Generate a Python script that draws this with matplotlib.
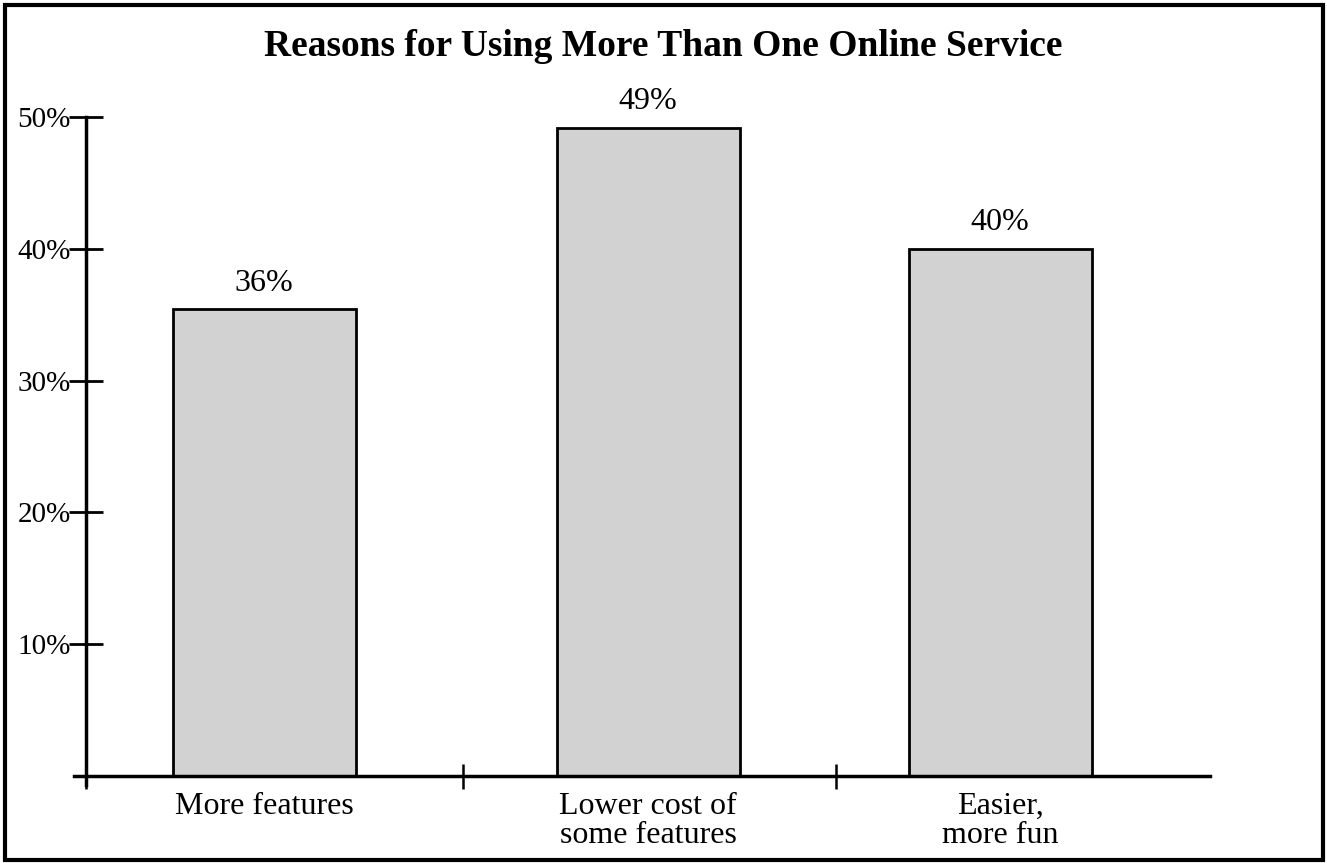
import matplotlib
matplotlib.use('Agg')
import matplotlib.pyplot as plt
from matplotlib.patches import Rectangle

# data
categories = ['More features', 'Lower cost of\nsome features', 'Easier,\nmore fun']
values = [35.4, 49.2, 40.0]
value_labels = ['36%', '49%', '40%']
yticks = [10, 20, 30, 40, 50]
ytick_labels = ['10%', '20%', '30%', '40%', '50%']

plt.rcParams['font.family'] = ['Liberation Serif', 'DejaVu Serif']

W, H = 1327, 863
fig = plt.figure(figsize=(W / 100, H / 100), dpi=100)

# axes placed in pixel terms, x data in pixels too
x0, x1 = 74, 1210
y_bot, y_top = 776, 117
ax = fig.add_axes([x0 / W, (H - y_bot) / H, (x1 - x0) / W, (y_bot - y_top) / H])
ax.set_xlim(x0, x1)
ax.set_ylim(0, 50)

centers = [264, 648, 1000]
bar_w = 183
ax.bar(centers, values, width=bar_w, color='#d2d2d2', edgecolor='black',
       linewidth=2, zorder=2)

for c, v, lab in zip(centers, values, value_labels):
    ax.text(c, v + 0.9, lab, ha='center', va='bottom', fontsize=23)

for c, cat in zip(centers, categories):
    ax.text(c, -1.2, cat, ha='center', va='top', fontsize=23, linespacing=1.0)

for s in ['top', 'right']:
    ax.spines[s].set_visible(False)
ax.spines['left'].set_position(('data', 86))
ax.spines['left'].set_linewidth(2.5)
ax.spines['bottom'].set_linewidth(2.5)
ax.spines['left'].set_bounds(-0.7, 50)

ax.set_yticks(yticks)
ax.set_yticklabels(ytick_labels, fontsize=21)
ax.tick_params(axis='y', direction='inout', length=24, width=2, pad=-1)
ax.set_xticks([86, 463, 836])
ax.set_xticklabels([])
ax.tick_params(axis='x', direction='inout', length=18, width=1.8)

fig.text(0.5, 1 - 47 / H, 'Reasons for Using More Than One Online Service',
         ha='center', va='center', fontsize=27, fontweight='bold')

fig.patches.append(Rectangle((5 / W, 3 / H), 1318 / W, 855 / H, transform=fig.transFigure,
                             fill=False, edgecolor='black', linewidth=3))

fig.savefig('out.png', dpi=100)
